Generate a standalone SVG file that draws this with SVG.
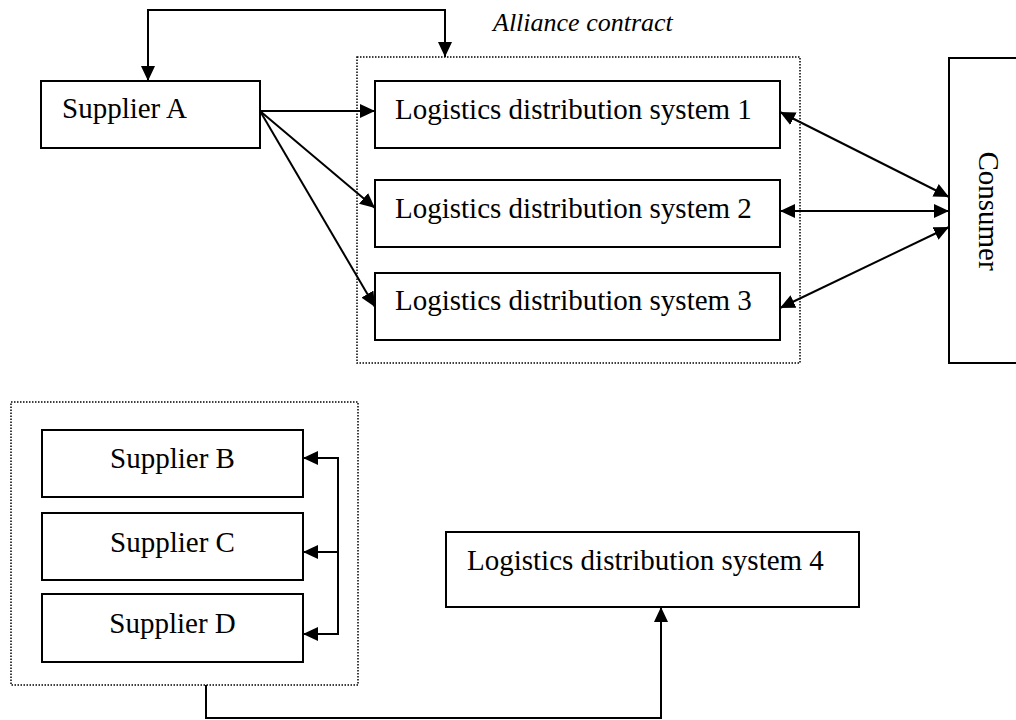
<svg xmlns="http://www.w3.org/2000/svg" width="1016" height="720" viewBox="0 0 1016 720">
<style>
.box{fill:#fff;stroke:#000;stroke-width:2}
.grp{fill:none;stroke:#000;stroke-width:1.5;stroke-dasharray:1.5 1.5}
.t{font-family:"Liberation Serif","Times New Roman",serif;font-size:29px;fill:#000}
.it{font-family:"Liberation Serif","Times New Roman",serif;font-size:26px;font-style:italic;fill:#000}
.c{fill:none;stroke:#000;stroke-width:2}
.e{marker-end:url(#ah)}
.b{marker-start:url(#ah);marker-end:url(#ah)}
</style>
<defs>
<marker id="ah" markerUnits="userSpaceOnUse" markerWidth="15" markerHeight="14" viewBox="0 0 15 14" refX="15" refY="7" orient="auto-start-reverse">
<path d="M0,0 L15,7 L0,14 z" fill="#000"/>
</marker>
</defs>
<rect class="grp" x="357" y="57" width="443" height="306"/>
<rect class="grp" x="11" y="402" width="347" height="283"/>
<text class="it" x="493" y="31">Alliance contract</text>
<g id="supplierA"><rect class="box" x="41" y="81" width="219" height="67"/><text class="t" x="62" y="118">Supplier A</text></g>
<g id="lds1"><rect class="box" x="375" y="81" width="405" height="67"/><text class="t" x="395" y="119">Logistics distribution system 1</text></g>
<g id="lds2"><rect class="box" x="375" y="180" width="405" height="67"/><text class="t" x="395" y="218">Logistics distribution system 2</text></g>
<g id="lds3"><rect class="box" x="375" y="273" width="405" height="67"/><text class="t" x="395" y="310">Logistics distribution system 3</text></g>
<g id="consumer"><rect class="box" x="949" y="58" width="90" height="305"/><text class="t" text-anchor="middle" transform="translate(979,211) rotate(90)">Consumer</text></g>
<g id="supplierB"><rect class="box" x="42" y="430" width="261" height="67"/><text class="t" x="172.5" y="468" text-anchor="middle">Supplier B</text></g>
<g id="supplierC"><rect class="box" x="42" y="513" width="261" height="67"/><text class="t" x="172.5" y="552" text-anchor="middle">Supplier C</text></g>
<g id="supplierD"><rect class="box" x="42" y="594" width="261" height="68"/><text class="t" x="172.5" y="633" text-anchor="middle">Supplier D</text></g>
<g id="lds4"><rect class="box" x="446" y="532" width="413" height="75"/><text class="t" x="467" y="570">Logistics distribution system 4</text></g>
<g id="connectors">
<path class="c b" d="M445,57 V10 H148 V81"/>
<path class="c e" d="M260,111 H375"/>
<path class="c e" d="M260,111 L375,208"/>
<path class="c e" d="M260,111 L375,307"/>
<path class="c b" d="M780,112 L949,197"/>
<path class="c b" d="M780,211 L949,211"/>
<path class="c b" d="M780,308 L949,227"/>
<path class="c" d="M338,458 V634"/>
<path class="c e" d="M339,458 H303"/>
<path class="c e" d="M339,552 H303"/>
<path class="c e" d="M339,634 H303"/>
<path class="c e" d="M206,685 V718 H661 V607"/>
</g>
</svg>
